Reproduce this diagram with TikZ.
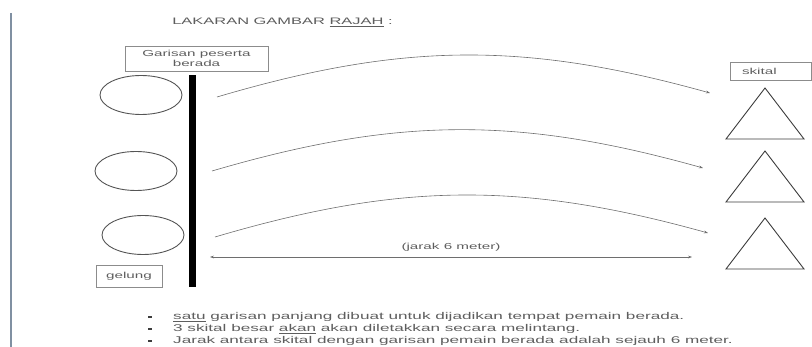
\documentclass[tikz,border=0pt]{standalone}
\usepackage{fontspec}
\setmainfont{Liberation Sans}
\usepackage{graphicx}
\usetikzlibrary{
  arrows.meta,
  shapes.geometric}

\definecolor{txtgrey}{HTML}{5E5E5E}
\definecolor{boxgrey}{HTML}{8C8C8C}
\definecolor{curvegrey}{HTML}{6E6E6E}
\definecolor{conegrey}{HTML}{3C3C3C}
\definecolor{ringgrey}{HTML}{555555}
\definecolor{sidegrey}{HTML}{8090A2}

\newcommand{\wide}[1]{\scalebox{1.75}[1]{#1}}

\begin{document}
\begin{tikzpicture}[x=1pt, y=-1pt]
\tikzset{
  labeltext/.style={font=\fontsize{8.7}{9.5}\selectfont, text=txtgrey},
  bodytext/.style={font=\fontsize{9.8}{11}\selectfont, text=txtgrey, anchor=west, inner sep=0pt},
  labelbox/.style={draw=boxgrey, line width=0.8pt, inner sep=0pt},
  gelung/.style={ellipse, draw=ringgrey, line width=0.9pt, minimum width=82pt, minimum height=39pt, inner sep=0pt},
  lontaran/.style={draw=curvegrey, line width=0.6pt, -{Stealth[length=4pt, width=2.8pt]}},
  kon/.style={draw=conegrey, line width=0.9pt, line join=miter},
  titik/.style={fill=conegrey, minimum width=3.5pt, minimum height=2.6pt, inner sep=0pt}
}
\useasboundingbox (0,0) rectangle (812,347);
\path[draw=sidegrey, line width=2.2pt] (11,13) -- (11,347);

\node[font=\fontsize{9.4}{11}\selectfont, text=txtgrey] (tajuk) at (282.5,22)
  {\wide{LAKARAN GAMBAR \underline{RAJAH} :}};

\node[labelbox, labeltext, minimum width=143pt, minimum height=25pt, align=center] (garisan) at (196.5,58.5)
  {\wide{Garisan peserta}\\\wide{berada}};
\node[fill=black, minimum width=7pt, minimum height=212pt, inner sep=0pt] (palang) at (192.5,181) {};

\node[gelung] (bulat1) at (141,95) {};
\node[gelung] (bulat2) at (136,171) {};
\node[gelung] (bulat3) at (143,235) {};
\node[labelbox, labeltext, minimum width=66pt, minimum height=22pt] (lgelung) at (129,276) {\wide{gelung}};

\node[labelbox, labeltext, minimum height=18pt, inner xsep=12pt, text width=57pt, align=left] (lskital) at (770.5,71) {\wide{skital}};
\foreach \n/\ytop in {1/88, 2/151, 3/218}
  \path[kon] (765,\ytop) coordinate (kon\n) -- ++(-39,51) -- ++(78,0) -- cycle;

% lontaran ke setiap skital
\coordinate (mula1) at (217,97);
\coordinate (mula2) at (212,171);
\coordinate (mula3) at (215,237);
\coordinate (hujung1) at (710,93);
\coordinate (hujung2) at (703,168);
\coordinate (hujung3) at (708,233);
\foreach \n in {1,2,3}
  \path[lontaran] (mula\n) to[bend left=16] (hujung\n);

\coordinate (jarakA) at (210,257);
\coordinate (jarakB) at (692,257);
\path[draw=curvegrey, line width=0.6pt, {Stealth[length=4pt, width=2.8pt]}-{Stealth[length=4pt, width=2.8pt]}]
  (jarakA) -- node[labeltext, above=2pt] (ljarak) {\wide{(jarak 6 meter)}} (jarakB);

\node[titik] (titik1) at (150,317) {};
\node[titik] (titik2) at (150,329) {};
\node[titik] (titik3) at (150,341) {};
\node[bodytext] (baris1) at (173,317) {\wide{\underline{satu} garisan panjang dibuat untuk dijadikan tempat pemain berada.}};
\node[bodytext] (baris2) at (173,329) {\wide{3 skital besar \underline{akan} akan diletakkan secara melintang.}};
\node[bodytext] (baris3) at (173,341) {\wide{Jarak antara skital dengan garisan pemain berada adalah sejauh 6 meter.}};
\end{tikzpicture}
\end{document}
